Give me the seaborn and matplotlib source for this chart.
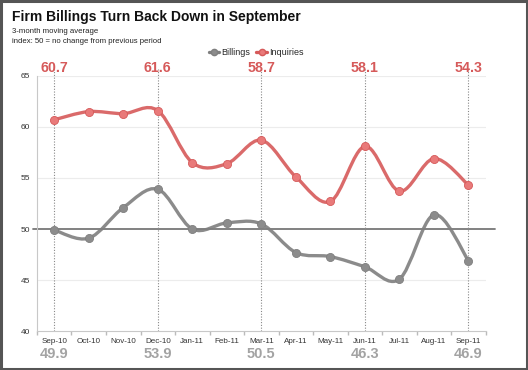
import numpy as np
import pandas as pd
import matplotlib.pyplot as plt
import seaborn as sns
from matplotlib.path import Path
from matplotlib.patches import PathPatch, Rectangle
from matplotlib.lines import Line2D

sns.set_theme(style="white")
plt.rcParams['font.family'] = ['Liberation Sans', 'DejaVu Sans']

# data
months = ['Sep-10', 'Oct-10', 'Nov-10', 'Dec-10', 'Jan-11', 'Feb-11', 'Mar-11',
          'Apr-11', 'May-11', 'Jun-11', 'Jul-11', 'Aug-11', 'Sep-11']
billings = [49.9, 49.1, 52.1, 53.9, 50.0, 50.6, 50.5, 47.7, 47.3, 46.3, 45.1, 51.4, 46.9]
inquiries = [60.7, 61.5, 61.3, 61.6, 56.5, 56.4, 58.7, 55.1, 52.7, 58.1, 53.7, 56.9, 54.3]
callout_idx = [0, 3, 6, 9, 12]

RED = '#d65a5a'
GRAY = '#7f7f7f'

df = pd.DataFrame({'pos': np.arange(len(months)), 'month': months,
                   'Billings': billings, 'Inquiries': inquiries})


def smooth_path(xs, ys):
    # catmull-rom style bezier through the points (rendering only)
    pts = np.column_stack([xs, ys]).astype(float)
    n = len(pts)
    verts = [pts[0]]
    codes = [Path.MOVETO]
    for i in range(n - 1):
        p0 = pts[max(i - 1, 0)]
        p1 = pts[i]
        p2 = pts[i + 1]
        p3 = pts[min(i + 2, n - 1)]
        c1 = p1 + (p2 - p0) / 6.0
        c2 = p2 - (p3 - p1) / 6.0
        verts += [c1, c2, p2]
        codes += [Path.CURVE4] * 3
    return Path(verts, codes)


fig = plt.figure(figsize=(5.28, 3.70), dpi=100)
ax = fig.add_axes([0.070, 0.105, 0.850, 0.690])

ax.set_xlim(-0.5, len(months) - 0.5)
ax.set_ylim(40, 65)

# light grid + the 50 reference line
for v in [45, 55, 60, 65]:
    ax.axhline(v, color='#ececec', lw=0.8, zorder=0)
ax.plot([-0.62, 12.76], [50, 50], color='#777777', lw=1.3, zorder=1, clip_on=False)

# dotted quarter markers
for i in callout_idx:
    ax.axvline(i, ymin=0, ymax=1.025, color='#888888', lw=0.8, ls=(0, (1, 1.5)),
               zorder=1, clip_on=False)

for col, c, mfc in [('Billings', GRAY, '#8c8c8c'), ('Inquiries', RED, '#e97a7a')]:
    ax.add_patch(PathPatch(smooth_path(df['pos'], df[col]), facecolor='none',
                           edgecolor=c, lw=2.4, alpha=0.9, zorder=3,
                           capstyle='round', joinstyle='round'))
    sns.scatterplot(data=df, x='pos', y=col, ax=ax, color=mfc, edgecolor=c,
                    linewidth=0.6, s=34, zorder=4, legend=False)

# callout values
for i in callout_idx:
    ax.text(i, 65.75, f'{inquiries[i]:.1f}', color=RED, fontsize=10.3, fontweight='bold',
            ha='center', va='center')
    ax.text(i, 37.8, f'{billings[i]:.1f}', color='#a3a3a3', fontsize=10.5, fontweight='bold',
            ha='center', va='center')

# axes styling
ax.set_xticks(df['pos'])
ax.set_xticklabels(months, fontsize=5.8, color='#333333')
ax.set_xticks(np.arange(-0.5, len(months)), minor=True)
ax.tick_params(axis='x', which='major', length=0, pad=5)
ax.tick_params(axis='x', which='minor', length=3, color='#bbbbbb', direction='out', bottom=True)
ax.set_yticks([40, 45, 50, 55, 60, 65])
ax.tick_params(axis='y', labelsize=6, colors='#333333', length=0, pad=5)
ax.set_xlabel('')
ax.set_ylabel('')
for s in ['top', 'right']:
    ax.spines[s].set_visible(False)
for s in ['left', 'bottom']:
    ax.spines[s].set_color('#c8c8c8')
    ax.spines[s].set_linewidth(0.8)

handles = [Line2D([], [], color=GRAY, lw=2.4, marker='o', ms=4.5, mfc='#8c8c8c'),
           Line2D([], [], color=RED, lw=2.4, marker='o', ms=4.5, mfc='#e97a7a')]
fig.legend(handles, ['Billings', 'Inquiries'], loc='center', bbox_to_anchor=(0.485, 0.857),
           ncol=2, frameon=False, fontsize=6.5, handlelength=1.2, handletextpad=0.2,
           columnspacing=0.7)

fig.text(0.023, 0.955, 'Firm Billings Turn Back Down in September', fontsize=10,
         fontweight='bold', color='#111111', va='center')
fig.text(0.023, 0.915, '3-month moving average', fontsize=5.6, color='#222222', va='center')
fig.text(0.023, 0.888, 'index: 50 = no change from previous period', fontsize=5.6,
         color='#222222', va='center')

# outer frame
fig.patches.append(Rectangle((0.002, 0.003), 0.996, 0.994, transform=fig.transFigure,
                             fill=False, edgecolor='#555555', lw=2.2))

fig.savefig('out.png', dpi=100)
